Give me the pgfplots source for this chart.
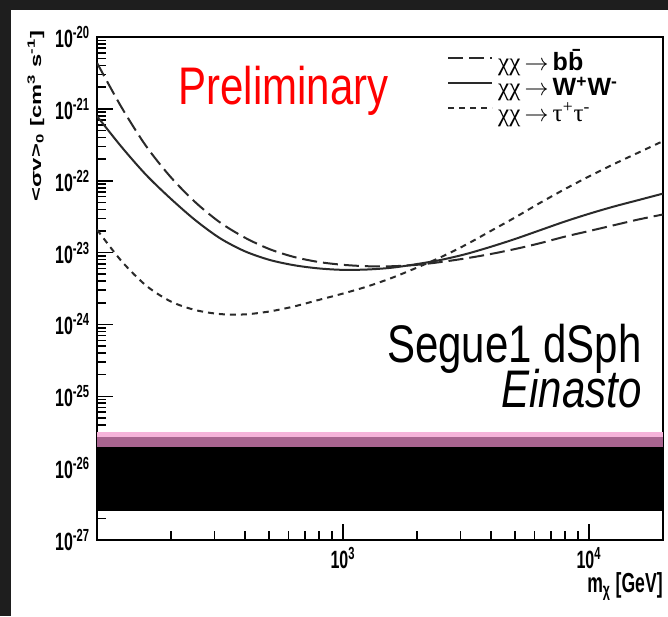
\documentclass[border=0pt]{standalone}
\usepackage{fontspec}
\setmainfont{Liberation Sans}
\newfontfamily\serifgr{Liberation Serif}
\usepackage{graphicx}
\usepackage{pgfplots}
\pgfplotsset{compat=1.18}
\definecolor{bgdark}{HTML}{1E1E1E}
\definecolor{bandpink}{HTML}{F6B3DA}
\definecolor{bandmauve}{HTML}{A8648F}
\definecolor{curve}{HTML}{2A2A2A}
% ROOT-style condensed bold tick labels
\newcommand{\ltick}[1]{\scalebox{0.8}[1.25]{\fontsize{10}{12}\selectfont\bfseries 10\textsuperscript{#1}}}
\newcommand{\tall}[1]{\scalebox{1}[1.26]{#1}}
\newcommand{\chan}{{\serifgr χχ}\,$\rightarrow$\,}

\begin{document}
\begin{tikzpicture}
\fill[bgdark] (0pt,0pt) rectangle (334pt,308pt);
\fill[white] (5.5pt,0pt) rectangle (334pt,303pt);
\begin{axis}[
    at={(48.5pt,38pt)}, anchor=south west,
    scale only axis, width=283pt, height=251.5pt,
    clip mode=individual,
    xmode=log, ymode=log,
    xmin=100, xmax=20000, ymin=1e-27, ymax=1e-20,
    xtick={1000,10000}, xticklabels={\ltick{3},\ltick{4}},
    minor xtick={200,300,400,500,600,700,800,900,2000,3000,4000,5000,6000,7000,8000,9000},
    ytick={1e-27,1e-26,1e-25,1e-24,1e-23,1e-22,1e-21,1e-20},
    yticklabels={\ltick{-27},\ltick{-26},\ltick{-25},\ltick{-24},\ltick{-23},\ltick{-22},\ltick{-21},\ltick{-20}},
    minor ytick={2e-27,3e-27,4e-27,5e-27,6e-27,7e-27,8e-27,9e-27,
                 2e-26,3e-26,4e-26,5e-26,6e-26,7e-26,8e-26,9e-26,
                 2e-25,3e-25,4e-25,5e-25,6e-25,7e-25,8e-25,9e-25,
                 2e-24,3e-24,4e-24,5e-24,6e-24,7e-24,8e-24,9e-24,
                 2e-23,3e-23,4e-23,5e-23,6e-23,7e-23,8e-23,9e-23,
                 2e-22,3e-22,4e-22,5e-22,6e-22,7e-22,8e-22,9e-22,
                 2e-21,3e-21,4e-21,5e-21,6e-21,7e-21,8e-21,9e-21},
    tick align=inside, xtick pos=bottom, ytick pos=left,
    major tick length=8pt, minor tick length=4.5pt,
    every tick/.style={black, line width=0.8pt},
    axis line style={line width=1pt},
    legend style={at={(0.618,0.972)}, anchor=north west, draw=none, fill=none,
        font=\fontsize{12.5}{13.5}\selectfont, row sep=0.7pt, column sep=2.5pt, inner sep=0pt,
        nodes={inner sep=0pt, text height=9.5pt, text depth=2.5pt}},
    legend cell align=left,
    legend image code/.code={\draw[#1] (0pt,3pt) -- (22pt,3pt);},
]
% annihilation band
\addplot[fill=black, draw=none, forget plot] coordinates {(100,2.5e-27) (20000,2.5e-27) (20000,2.0e-26) (100,2.0e-26)} -- cycle;
\addplot[fill=bandmauve, draw=none, forget plot] coordinates {(100,2.0e-26) (20000,2.0e-26) (20000,2.75e-26) (100,2.75e-26)} -- cycle;
\addplot[fill=bandpink, draw=none, forget plot] coordinates {(100,2.75e-26) (20000,2.75e-26) (20000,3.2e-26) (100,3.2e-26)} -- cycle;

% b bbar
\addplot[curve, line width=1pt, smooth, dash pattern=on 7.5pt off 3pt] coordinates {
    (100,4.37e-21) (125.9,1.047e-21) (158.5,3.02e-22) (199.5,1.122e-22)
    (251.2,5.01e-23) (316.2,2.63e-23) (398.1,1.622e-23) (501.2,1.122e-23)
    (631.0,8.71e-24) (794.3,7.41e-24) (1000,6.76e-24) (1258.9,6.46e-24)
    (1584.9,6.46e-24) (1995.3,6.76e-24) (2511.9,7.41e-24) (3162.3,8.32e-24)
    (3981.1,9.55e-24) (5011.9,1.122e-23) (6309.6,1.349e-23) (7943.3,1.66e-23)
    (10000,1.995e-23) (12589,2.399e-23) (15849,2.884e-23) (19953,3.388e-23)
};
\addlegendentry{\chan\textbf{b\={b}}}
% W+W-
\addplot[curve, line width=1pt, smooth] coordinates {
    (100,7.94e-22) (125.9,2.95e-22) (158.5,1.202e-22) (199.5,5.62e-23)
    (251.2,2.82e-23) (316.2,1.585e-23) (398.1,1.047e-23) (501.2,7.94e-24)
    (631.0,6.68e-24) (794.3,6.03e-24) (1000,5.75e-24) (1258.9,5.82e-24)
    (1584.9,6.17e-24) (1995.3,6.92e-24) (2511.9,7.94e-24) (3162.3,9.55e-24)
    (3981.1,1.202e-23) (5011.9,1.549e-23) (6309.6,2.042e-23) (7943.3,2.692e-23)
    (10000,3.467e-23) (12589,4.365e-23) (15849,5.37e-23) (19953,6.61e-23)
};
\addlegendentry{\chan\textbf{W\textsuperscript{+}W\textsuperscript{-}}}
% tau+tau-
\addplot[curve, line width=1pt, smooth, dash pattern=on 3pt off 2.5pt] coordinates {
    (100,2.089e-23) (125.9,7.59e-24) (158.5,3.467e-24) (199.5,2.089e-24)
    (251.2,1.585e-24) (316.2,1.396e-24) (398.1,1.38e-24) (501.2,1.514e-24)
    (631.0,1.778e-24) (794.3,2.188e-24) (1000,2.692e-24) (1258.9,3.388e-24)
    (1584.9,4.467e-24) (1995.3,6.166e-24) (2511.9,8.71e-24) (3162.3,1.288e-23)
    (3981.1,1.995e-23) (5011.9,3.09e-23) (6309.6,4.898e-23) (7943.3,7.586e-23)
    (10000,1.148e-22) (12589,1.698e-22) (15849,2.455e-22) (19953,3.548e-22)
};
\addlegendentry{\chan{\serifgr τ\textsuperscript{+}τ\textsuperscript{-}}}

\node[anchor=base west, inner sep=0pt, text=red] at (rel axis cs:0.143,0.865)
    {\tall{\fontsize{21}{21}\selectfont Preliminary}};
\node[anchor=base east, inner sep=0pt] at (rel axis cs:0.963,0.352)
    {\raisebox{0pt}[\height][0pt]{\tall{\fontsize{21}{21}\selectfont Segue1 dSph}}};
\node[anchor=base east, inner sep=0pt] at (rel axis cs:0.963,0.264)
    {\tall{\fontsize{21}{21}\selectfont\itshape Einasto}};
\node[rotate=90, anchor=east, inner sep=0pt] at (rel axis cs:-0.108,1.014)
    {\scalebox{1.25}[0.8]{\fontsize{9.5}{11}\selectfont\bfseries <σv>\textsubscript{0} [cm\textsuperscript{3} s\textsuperscript{-1}]}};
\node[anchor=east, inner sep=0pt] at (rel axis cs:1,-0.093)
    {\scalebox{0.8}[1.25]{\fontsize{11}{12}\selectfont\bfseries m\textsubscript{χ} [GeV]}};
\end{axis}
\end{tikzpicture}
\end{document}
